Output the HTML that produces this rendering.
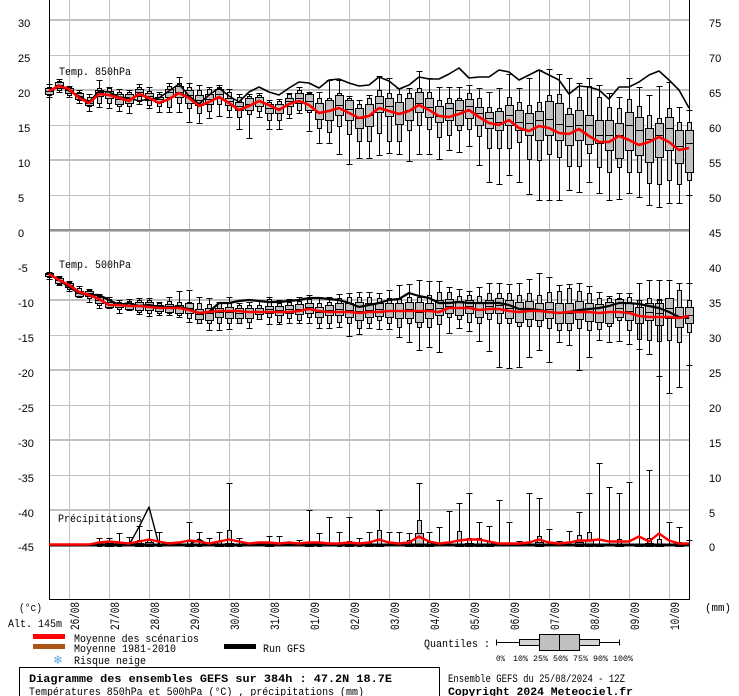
<!DOCTYPE html>
<html><head><meta charset="utf-8">
<style>
html,body{margin:0;padding:0;background:#fff;}
#wrap{position:relative;width:739px;height:696px;overflow:hidden;background:#fff;}
#wrap svg{position:absolute;left:0;top:0;}
.m{font-family:"Liberation Mono",monospace;font-size:11px;fill:#000;}
.n{font-family:"Liberation Sans",sans-serif;font-size:11px;fill:#000;}
.b{font-family:"Liberation Mono",monospace;font-size:11px;font-weight:bold;fill:#000;}
.t{font-family:"Liberation Mono",monospace;font-size:8px;fill:#000;}
.d{font-family:"Liberation Mono",monospace;font-size:13px;fill:#000;}
</style></head><body>
<div id="wrap">
<svg width="739" height="696" viewBox="0 0 739 696" xmlns="http://www.w3.org/2000/svg">
<g shape-rendering="crispEdges">
<g fill="#c0c0c0">
<rect x="69" y="0" width="1" height="599"/><rect x="109" y="0" width="1" height="599"/><rect x="149" y="0" width="1" height="599"/><rect x="189" y="0" width="1" height="599"/>
<rect x="229" y="0" width="1" height="599"/><rect x="269" y="0" width="1" height="599"/><rect x="309" y="0" width="1" height="599"/><rect x="349" y="0" width="1" height="599"/>
<rect x="389" y="0" width="1" height="599"/><rect x="429" y="0" width="1" height="599"/><rect x="469" y="0" width="1" height="599"/><rect x="509" y="0" width="1" height="599"/>
<rect x="549" y="0" width="1" height="599"/><rect x="589" y="0" width="1" height="599"/><rect x="629" y="0" width="1" height="599"/><rect x="669" y="0" width="1" height="599"/>
<rect x="49" y="19" width="640" height="2"/><rect x="49" y="89" width="640" height="2"/><rect x="49" y="159" width="640" height="2"/>
<rect x="49" y="299" width="640" height="2"/><rect x="49" y="369" width="640" height="2"/><rect x="49" y="439" width="640" height="2"/><rect x="49" y="509" width="640" height="2"/>
<rect x="49" y="55" width="640" height="1"/><rect x="49" y="125" width="640" height="1"/><rect x="49" y="195" width="640" height="1"/>
<rect x="49" y="335" width="640" height="1"/><rect x="49" y="405" width="640" height="1"/><rect x="49" y="475" width="640" height="1"/><rect x="49" y="545" width="640" height="1"/>
</g>
<rect x="49" y="229" width="640" height="2" fill="#909090"/>
<rect x="49" y="231" width="640" height="1" fill="#c0c0c0"/>
<rect x="49" y="0" width="1" height="600" fill="#000"/>
<rect x="689" y="0" width="1" height="600" fill="#000"/>
<rect x="49" y="599" width="641" height="1" fill="#000"/>
</g>
<g class="n">
<text x="18" y="27">30</text><text x="18" y="62">25</text><text x="18" y="97">20</text><text x="18" y="132">15</text><text x="18" y="167">10</text><text x="18" y="202">5</text><text x="18" y="237">0</text>
<text x="18" y="272">-5</text><text x="18" y="307">-10</text><text x="18" y="342">-15</text><text x="18" y="377">-20</text><text x="18" y="412">-25</text><text x="18" y="447">-30</text><text x="18" y="482">-35</text><text x="18" y="517">-40</text><text x="18" y="551">-45</text>
<text x="709" y="27">75</text><text x="709" y="62">70</text><text x="709" y="97">65</text><text x="709" y="132">60</text><text x="709" y="167">55</text><text x="709" y="202">50</text><text x="709" y="237">45</text>
<text x="709" y="272">40</text><text x="709" y="307">35</text><text x="709" y="342">30</text><text x="709" y="377">25</text><text x="709" y="412">20</text><text x="709" y="447">15</text><text x="709" y="482">10</text><text x="709" y="517">5</text><text x="709" y="551">0</text>
</g>
<text class="m" x="59" y="75" textLength="72" lengthAdjust="spacingAndGlyphs">Temp. 850hPa</text>
<text class="m" x="59" y="268" textLength="72" lengthAdjust="spacingAndGlyphs">Temp. 500hPa</text>
<text class="m" x="58" y="522" textLength="84" lengthAdjust="spacingAndGlyphs">Précipitations</text>
<g class="d">
<text transform="translate(79,630) rotate(-90)" textLength="28" lengthAdjust="spacingAndGlyphs">26/08</text>
<text transform="translate(119,630) rotate(-90)" textLength="28" lengthAdjust="spacingAndGlyphs">27/08</text>
<text transform="translate(159,630) rotate(-90)" textLength="28" lengthAdjust="spacingAndGlyphs">28/08</text>
<text transform="translate(199,630) rotate(-90)" textLength="28" lengthAdjust="spacingAndGlyphs">29/08</text>
<text transform="translate(239,630) rotate(-90)" textLength="28" lengthAdjust="spacingAndGlyphs">30/08</text>
<text transform="translate(279,630) rotate(-90)" textLength="28" lengthAdjust="spacingAndGlyphs">31/08</text>
<text transform="translate(319,630) rotate(-90)" textLength="28" lengthAdjust="spacingAndGlyphs">01/09</text>
<text transform="translate(359,630) rotate(-90)" textLength="28" lengthAdjust="spacingAndGlyphs">02/09</text>
<text transform="translate(399,630) rotate(-90)" textLength="28" lengthAdjust="spacingAndGlyphs">03/09</text>
<text transform="translate(439,630) rotate(-90)" textLength="28" lengthAdjust="spacingAndGlyphs">04/09</text>
<text transform="translate(479,630) rotate(-90)" textLength="28" lengthAdjust="spacingAndGlyphs">05/09</text>
<text transform="translate(519,630) rotate(-90)" textLength="28" lengthAdjust="spacingAndGlyphs">06/09</text>
<text transform="translate(559,630) rotate(-90)" textLength="28" lengthAdjust="spacingAndGlyphs">07/09</text>
<text transform="translate(599,630) rotate(-90)" textLength="28" lengthAdjust="spacingAndGlyphs">08/09</text>
<text transform="translate(639,630) rotate(-90)" textLength="28" lengthAdjust="spacingAndGlyphs">09/09</text>
<text transform="translate(679,630) rotate(-90)" textLength="28" lengthAdjust="spacingAndGlyphs">10/09</text>
</g>
<text class="m" x="19" y="611" textLength="23" lengthAdjust="spacingAndGlyphs">(°c)</text>
<text class="m" x="8" y="627" textLength="54" lengthAdjust="spacingAndGlyphs">Alt. 145m</text>
<text class="m" x="705" y="611" textLength="26" lengthAdjust="spacingAndGlyphs">(mm)</text>
<rect x="33" y="634" width="32" height="5" fill="#ff0000"/>
<rect x="33" y="644" width="32" height="5" fill="#aa5514"/>
<rect x="224" y="644" width="32" height="5" fill="#000"/>
<text class="m" x="74" y="642" textLength="125" lengthAdjust="spacingAndGlyphs">Moyenne des scénarios</text>
<text class="m" x="74" y="652" textLength="102" lengthAdjust="spacingAndGlyphs">Moyenne 1981-2010</text>
<text class="m" x="263" y="652" textLength="42" lengthAdjust="spacingAndGlyphs">Run GFS</text>
<text x="53" y="664" style="font-family:'DejaVu Sans',sans-serif;font-size:12px;fill:#5aa8e0;">❄</text>
<text class="m" x="74" y="664" textLength="72" lengthAdjust="spacingAndGlyphs">Risque neige</text>
<text class="m" x="424" y="647" textLength="66" lengthAdjust="spacingAndGlyphs">Quantiles :</text>
<g shape-rendering="crispEdges" stroke="#000" stroke-width="1">
<path d="M496.5 642.5H619.5M496.5 639.5V645.5M619.5 639.5V645.5" fill="none"/>
<rect x="519.5" y="639.5" width="80" height="6" fill="#d3d3d3"/>
<rect x="539.5" y="634.5" width="40" height="16" fill="#c0c0c0"/>
<path d="M559.5 634.5V650.5" fill="none"/>
</g>
<g class="t">
<text x="496" y="661" textLength="9" lengthAdjust="spacingAndGlyphs">0%</text>
<text x="513" y="661" textLength="15" lengthAdjust="spacingAndGlyphs">10%</text>
<text x="533" y="661" textLength="15" lengthAdjust="spacingAndGlyphs">25%</text>
<text x="553" y="661" textLength="15" lengthAdjust="spacingAndGlyphs">50%</text>
<text x="573" y="661" textLength="15" lengthAdjust="spacingAndGlyphs">75%</text>
<text x="593" y="661" textLength="15" lengthAdjust="spacingAndGlyphs">90%</text>
<text x="613" y="661" textLength="20" lengthAdjust="spacingAndGlyphs">100%</text>
</g>
<rect x="19.5" y="667.5" width="420" height="40" fill="none" stroke="#000" stroke-width="1" shape-rendering="crispEdges"/>
<text class="b" x="29" y="682" textLength="363" lengthAdjust="spacingAndGlyphs">Diagramme des ensembles GEFS sur 384h : 47.2N 18.7E</text>
<text class="m" x="29" y="695" textLength="335" lengthAdjust="spacingAndGlyphs">Températures 850hPa et 500hPa (°C) , précipitations (mm)</text>
<text class="m" x="448" y="682" textLength="177" lengthAdjust="spacingAndGlyphs">Ensemble GEFS du 25/08/2024 - 12Z</text>
<text class="b" x="448" y="695" textLength="185" lengthAdjust="spacingAndGlyphs">Copyright 2024 Meteociel.fr</text>
</svg>
<div id="d"></div>
</div>
<script>
(function(){
var A=[[84,87,88,91,94,95,97],[79,81,82,85,88,90,92],[86,87,88,90,93,95,97],[90,92,93,96,99,100,103],[94,97,100,103,105,106,111],[80,88,90,92,96,103,107],[87,88,91,94,98,103,108],[89,92,94,99,104,106,111],[90,92,94,98,103,106,113],[84,87,89,92,96,101,104],[87,91,93,96,100,105,108],[92,94,97,99,102,106,112],[83,86,89,92,97,107,112],[77,83,86,92,97,103,112],[83,87,90,95,103,108,122],[85,90,95,100,105,113,123],[87,89,94,99,104,111,118],[85,87,89,94,98,104,116],[89,92,98,101,105,110,117],[94,97,102,106,110,117,129],[94,96,98,104,110,114,138],[93,95,97,101,106,111,117],[100,102,104,108,113,120,129],[99,101,104,108,113,120,129],[93,94,98,101,106,114,118],[87,90,93,98,103,110,113],[92,93,94,101,110,112,131],[92,98,103,112,119,128,143],[80,98,100,110,120,132,143],[80,93,95,105,115,126,154],[96,98,100,109,120,134,164],[100,104,108,118,128,141,158],[95,98,104,115,126,141,158],[76,90,96,103,112,133,155],[78,93,98,106,116,141,153],[88,94,102,113,124,141,154],[88,93,98,110,120,130,161],[71,88,92,103,112,125,154],[78,92,98,107,117,129,154],[87,100,106,116,122,137,159],[87,98,103,108,120,135,150],[87,98,100,110,125,130,152],[85,93,99,106,118,129,146],[88,98,107,113,125,136,165],[92,107,112,118,128,148,182],[88,108,111,122,130,148,184],[74,97,105,115,125,148,175],[88,102,110,122,130,142,182],[78,105,113,123,135,159,194],[70,102,111,120,140,160,200],[69,95,101,119,135,154,200],[74,94,103,124,140,157,200],[78,108,114,126,145,166,190],[83,97,110,125,140,166,192],[78,86,115,125,144,153,182],[85,97,120,135,143,167,193],[93,107,120,135,150,172,200],[97,108,123,135,158,167,199],[78,99,112,125,150,172,193],[87,106,117,130,155,172,197],[95,115,128,139,162,183,205],[86,118,123,135,157,184,207],[82,108,117,128,150,180,203],[107,122,130,146,163,184,203],[110,122,130,143,172,180,195]];
var RA=[91,86,89,98,103,94,95,98,101,94,98,103,99,93,98,106,102,97,103,110,106,101,105,110,104,101,105,113,111,108,113,118,116,108,111,114,111,105,110,116,117,114,110,117,123,125,120,128,131,126,128,133,134,129,136,142,142,136,140,145,142,137,142,150,148];
var GA=[91,85,91,96,102,91,92,97,98,101,99,98,91,84,96,104,95,88,96,102,92,87,92,95,88,82,83,88,80,79,83,86,85,77,81,89,85,77,79,79,74,68,78,77,77,70,72,80,75,70,75,80,94,86,87,90,99,87,87,82,75,71,80,90,108];
var B=[[272,273,273,274,276,277,279],[276,277,278,280,283,284,285],[281,282,283,285,287,289,291],[286,288,291,293,296,297,297],[289,290,291,293,296,298,302],[294,296,297,300,303,305,308],[297,299,302,304,307,307,308],[300,302,303,305,307,309,313],[299,301,303,306,309,309,310],[298,300,302,306,310,312,314],[298,300,302,306,310,313,316],[302,303,305,308,311,313,315],[297,301,304,307,312,313,315],[291,302,305,308,313,315,317],[290,302,303,308,313,318,322],[297,303,309,314,319,323,323],[298,304,308,313,320,323,330],[302,303,308,312,317,323,330],[297,303,307,312,318,323,329],[303,305,308,313,318,323,323],[302,305,308,312,318,322,328],[301,305,308,311,314,319,319],[297,299,306,309,313,317,324],[300,303,306,310,315,322,324],[299,302,305,309,313,318,323],[297,301,304,309,314,320,323],[295,299,303,307,313,317,323],[297,303,307,312,317,323,328],[297,302,305,310,315,323,328],[294,298,303,309,315,322,327],[293,297,303,310,317,323,336],[292,297,302,311,320,328,334],[292,297,303,310,317,323,328],[293,298,303,309,316,320,329],[290,298,303,310,317,323,329],[285,299,303,310,318,327,337],[284,297,302,309,318,323,342],[280,297,302,312,322,327,350],[281,295,303,309,318,327,347],[281,292,300,308,315,324,352],[287,292,299,306,313,317,333],[289,296,301,308,315,319,328],[291,295,300,306,313,322,331],[287,296,302,310,317,323,341],[283,293,300,306,313,319,351],[283,293,298,305,313,323,367],[284,293,300,308,318,323,368],[283,295,302,312,322,326,367],[279,293,301,310,319,326,357],[273,295,303,311,320,326,350],[277,292,302,309,318,328,362],[285,291,303,313,323,330,342],[284,288,303,313,323,330,345],[283,291,301,310,319,328,370],[286,293,303,312,321,330,357],[292,298,304,313,322,329,340],[296,298,302,312,323,326,342],[293,298,299,308,317,320,341],[293,297,303,311,320,330,344],[283,300,307,315,323,339,349],[280,298,303,312,320,340,354],[280,299,303,313,325,341,376],[280,298,298,308,318,340,393],[283,290,307,317,327,342,387],[283,300,307,315,323,332,365]];
var RB=[274,280,285,292,295,299,305,305,306,306,307,308,308,308,310,313,312,311,311,311,312,312,312,312,312,311,309,311,312,312,312,313,312,312,311,311,311,311,311,312,308,308,308,310,309,309,311,312,311,311,312,313,312,312,312,313,312,312,313,316,317,317,317,318,316];
var GB=[274,280,287,293,295,295,300,305,303,306,305,307,307,307,309,313,312,303,303,301,300,301,302,302,301,300,298,298,299,300,303,307,305,303,300,299,293,296,298,303,303,302,303,303,303,303,305,309,309,310,312,313,312,310,309,308,306,303,303,304,306,308,312,317,318];
var P=[[546,546,546],[546,546,546],[546,546,546],[546,546,546],[546,546,546],[538,545,546],[538,541,543],[533,545,546],[537,546,546],[526,540,543],[530,540,542],[532,545,546],[542,546,546],[542,546,546],[522,541,544],[532,545,546],[538,546,546],[532,541,544],[483,530,543],[538,545,546],[543,546,546],[542,546,546],[536,544,545],[536,546,546],[543,546,546],[540,546,546],[510,542,544],[533,545,546],[517,546,546],[532,545,546],[517,541,544],[538,544,546],[532,542,545],[510,530,544],[532,546,546],[532,546,546],[533,540,544],[483,520,533],[532,542,545],[527,546,546],[511,546,546],[503,531,544],[493,538,543],[522,538,544],[526,541,545],[500,546,546],[522,546,546],[541,546,546],[493,546,546],[498,536,542],[529,546,546],[541,546,546],[531,546,546],[512,535,542],[493,532,540],[463,544,545],[487,546,546],[493,539,544],[482,546,546],[300,544,545],[470,538,543],[300,539,544],[522,546,546],[527,542,544],[540,546,546]];
var RP=[546,546,546,546,546,544,543,544,545,543,541,543,545,544,542,543,545,543,541,543,545,544,544,545,544,545,544,544,545,545,544,545,544,541,544,545,544,538,543,545,544,542,541,541,543,545,545,545,544,541,544,545,544,542,542,541,543,543,543,538,543,535,542,545,545];
var GP=[];for(var i=0;i<65;i++){GP.push(545);}GP[9]=527;GP[10]=507;GP[15]=539;
var s='';
function X(i){return 49+10*i;}
function box(i,a){
 var x=X(i)+0.5;
 var y=function(v){return v+0.5;};
 s+='<path d="M'+x+' '+y(a[0])+'V'+y(a[6])+'M'+(x-3)+' '+y(a[0])+'h6M'+(x-3)+' '+y(a[6])+'h6"/>';
 if(a[5]>a[1]) s+='<rect x="'+(x-2)+'" y="'+y(a[1])+'" width="4" height="'+(a[5]-a[1])+'" fill="#d3d3d3"/>';
 if(a[4]>a[2]) s+='<rect x="'+(x-4)+'" y="'+y(a[2])+'" width="8" height="'+(a[4]-a[2])+'" fill="#c0c0c0"/>';
 s+='<path d="M'+(x-4)+' '+y(a[3])+'h8"/>';
}
function pbox(i,a){
 if(a[0]>=546) return;
 var x=X(i)+0.5;
 s+='<path d="M'+x+' '+(a[0]+0.5)+'V546M'+(x-3)+' '+(a[0]+0.5)+'h6"/>';
 if(a[1]<546) s+='<rect x="'+(x-2)+'" y="'+(a[1]+0.5)+'" width="4" height="'+(546-a[1])+'" fill="#d3d3d3"/>';
 if(a[2]<546) s+='<rect x="'+(x-4)+'" y="'+(a[2]+0.5)+'" width="8" height="'+(546-a[2])+'" fill="#c0c0c0"/>';
}
function line(arr,col,w,off){
 var p=[];for(var i=0;i<arr.length;i++){p.push(X(i)+','+(arr[i]+(off||0)));}
 s+='<polyline points="'+p.join(' ')+'" fill="none" stroke="'+col+'" stroke-width="'+w+'" stroke-linejoin="round"/>';
}
s+='<g shape-rendering="crispEdges" stroke="#000" stroke-width="1" fill="none">';
for(var i=0;i<65;i++){box(i,A[i]);}
for(var i=0;i<65;i++){box(i,B[i]);}
for(var i=0;i<65;i++){pbox(i,P[i]);}
s+='</g>';
line(GA,'#000',1.6,0);
line(RA,'#ff0000',2.6,0);
line(GB,'#000',2.2,0);
line(RB,'#ff0000',2.6,0);
s+='<rect x="49" y="543.5" width="640" height="3" fill="#000"/>';
line(GP,'#000',1.4,0);
line(RP,'#ff0000',2.4,-1.5);
document.getElementById('d').innerHTML='<svg width="739" height="696" viewBox="0 0 739 696" xmlns="http://www.w3.org/2000/svg">'+s+'</svg>';
})();
</script>
</body></html>
